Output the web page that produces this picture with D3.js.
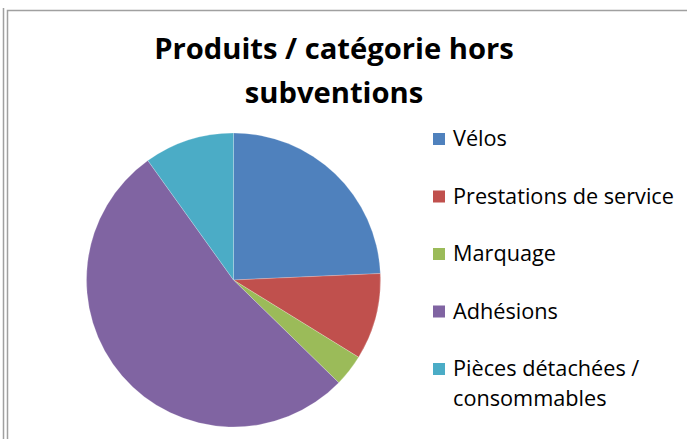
<!DOCTYPE html>
<html>
<head>
<meta charset="utf-8">
<script src="https://cdn.jsdelivr.net/npm/d3@7"></script>
<style>
  html, body { margin: 0; padding: 0; background: #fff; }
  svg { display: block; }
</style>
</head>
<body>
<svg id="chart" width="687" height="439"></svg>
<script>
const categories = ["Vélos", "Prestations de service", "Marquage", "Adhésions", "Pièces détachées / consommables"];
const values = [24.3, 9.5, 3.5, 52.8, 9.9];
const colors = ["#4F81BD", "#C0504D", "#9BBB59", "#8064A2", "#4BACC6"];
const titleLines = ["Produits / catégorie hors", "subventions"];
const legendLines = [["Vélos"], ["Prestations de service"], ["Marquage"], ["Adhésions"], ["Pièces détachées /", "consommables"]];

const svg = d3.select("#chart");
const W = 687, H = 439;
const FONT = "'Open Sans', 'Noto Sans', sans-serif";

// frame lines
svg.append("line").attr("x1", 3.5).attr("x2", 3.5).attr("y1", 8).attr("y2", H)
  .attr("stroke", "#a0a0a0").attr("stroke-width", 1.5);
svg.append("path").attr("d", `M7.5,${H} V10.5 H${W}`)
  .attr("fill", "none").attr("stroke", "#a0a0a0").attr("stroke-width", 1.5);

// helper to fit text width
function fit(sel, target) {
  const node = sel.node();
  const fs = parseFloat(sel.attr("font-size"));
  const w = node.getComputedTextLength();
  sel.attr("font-size", fs * target / w);
  return fs * target / w;
}

// title
const titleCx = 334;
const titleBase = [59, 103];
const t1 = svg.append("text").attr("x", titleCx).attr("y", titleBase[0])
  .attr("text-anchor", "middle").attr("font-family", FONT).attr("font-weight", "bold")
  .attr("font-size", 28).attr("fill", "#000").text(titleLines[0]);
const tfs = fit(t1, 360);
svg.append("text").attr("x", titleCx).attr("y", titleBase[1])
  .attr("text-anchor", "middle").attr("font-family", FONT).attr("font-weight", "bold")
  .attr("font-size", tfs).attr("fill", "#000").text(titleLines[1]);

// pie
const cx = 233.5, cy = 280, R = 147;
const pie = d3.pie().sort(null).value(d => d)(values);
const arc = d3.arc().innerRadius(0).outerRadius(R);
const g = svg.append("g").attr("transform", `translate(${cx},${cy})`);
g.selectAll("path").data(pie).join("path")
  .attr("d", arc)
  .attr("fill", (d, i) => colors[i])
  .attr("stroke", "#ffffff").attr("stroke-opacity", 0.35).attr("stroke-width", 0.6);

// legend
const lg = svg.append("g");
const legY = d3.scaleLinear().domain([0, 4]).range([139, 369]);
const sq = 12;
// measure legend font
const probe = lg.append("text").attr("font-family", FONT).attr("font-size", 20).text(legendLines[1][0]);
const lfs = fit(probe, 221);
probe.remove();
categories.forEach((c, i) => {
  const y = legY(i);
  lg.append("rect").attr("x", 433).attr("y", y - sq / 2).attr("width", sq).attr("height", sq)
    .attr("fill", colors[i]);
  legendLines[i].forEach((line, j) => {
    lg.append("text").attr("x", 453).attr("y", y + 7 + j * 30)
      .attr("font-family", FONT).attr("font-size", lfs).attr("fill", "#000").text(line);
  });
});
</script>
</body>
</html>
